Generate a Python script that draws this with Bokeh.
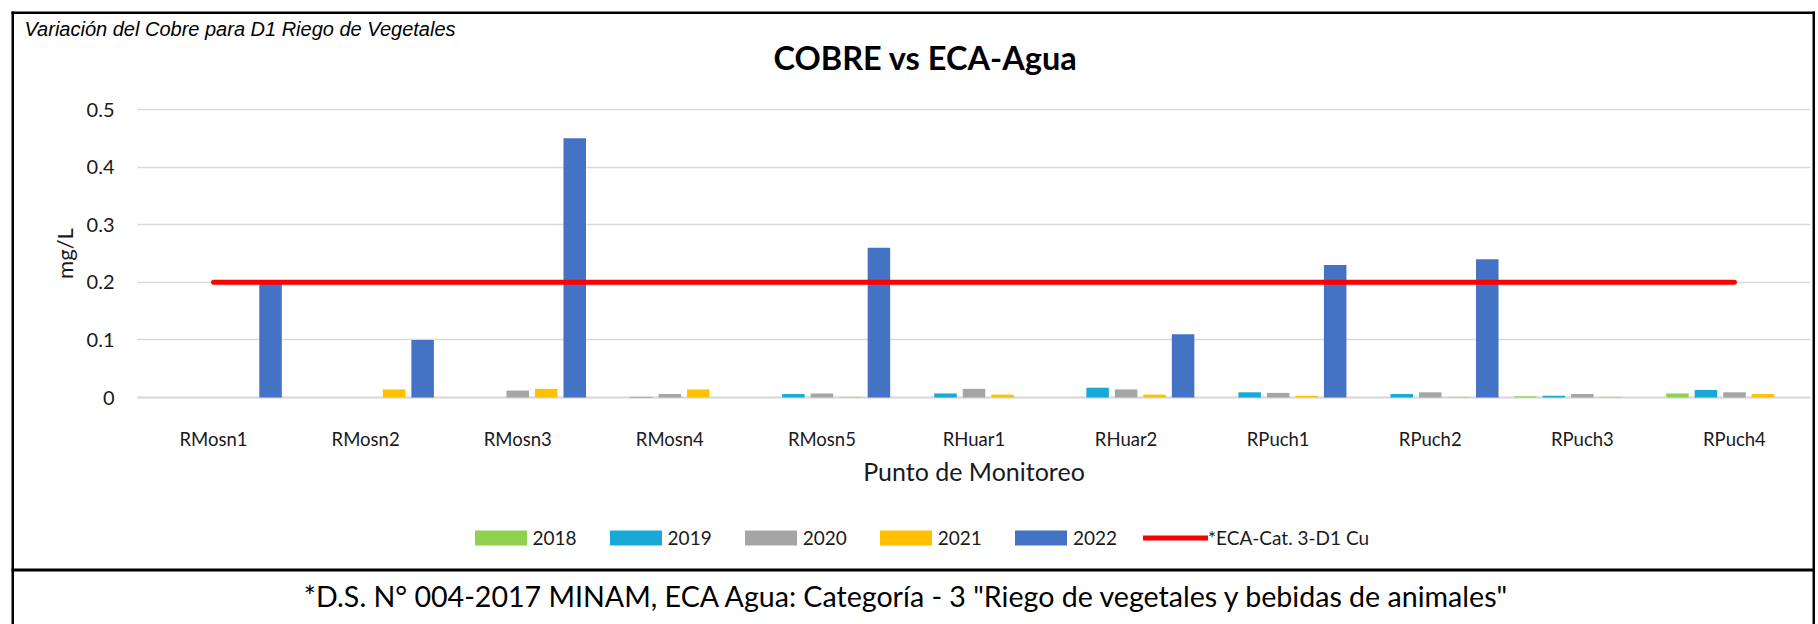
from bokeh.plotting import figure
from bokeh.models import (ColumnDataSource, Range1d, Label, BoxAnnotation,
                          Legend, LegendItem, FixedTicker, NumeralTickFormatter)
from bokeh.transform import dodge
from bokeh.embed import file_html
from bokeh.resources import INLINE

# ---------------- data ----------------
categories = ["RMosn1", "RMosn2", "RMosn3", "RMosn4", "RMosn5", "RHuar1",
              "RHuar2", "RPuch1", "RPuch2", "RPuch3", "RPuch4"]
years = ["2018", "2019", "2020", "2021", "2022"]
v2018 = [0, 0, 0, 0, 0, 0, 0, 0, 0, 0.002, 0.007]
v2019 = [0, 0, 0, 0.001, 0.006, 0.007, 0.017, 0.009, 0.006, 0.003, 0.013]
v2020 = [0, 0, 0.012, 0.006, 0.007, 0.015, 0.014, 0.008, 0.009, 0.006, 0.009]
v2021 = [0, 0.014, 0.015, 0.014, 0.001, 0.005, 0.005, 0.003, 0.001, 0.001, 0.006]
v2022 = [0.2, 0.1, 0.45, 0, 0.26, 0, 0.11, 0.23, 0.24, 0, 0]
eca = [0.2, 0.2, 0.2, 0.2, 0.2, 0.2, 0.2, 0.2, 0.2, 0.2, 0.2]
y_ticks = [0, 0.1, 0.2, 0.3, 0.4, 0.5]
eca_label = "*ECA-Cat. 3-D1 Cu"

colors = ["#92D050", "#19A9D9", "#A5A5A5", "#FFC000", "#4472C4"]
FONT = "Lato"
TXT = "#1a1a1a"

# ---------------- page geometry (px) ----------------
W, H = 1818, 624
PL, PR = 137.0, 1810.0        # plot area left / right
PT, PB = 109.0, 397.0         # plot area top (y=0.5) / bottom (y=0)
YMAX = 0.5
NCAT = len(categories)
cw = (PR - PL) / NCAT         # px per category
ppu = (PB - PT) / YMAX        # px per mg/L

x_range = Range1d(-PL / cw, (W - PL) / cw)
y_range = Range1d(-(H - PB) / ppu, YMAX + PT / ppu)

centers = [i + 0.5 for i in range(NCAT)]

src = ColumnDataSource(dict(x=centers, y2018=v2018, y2019=v2019, y2020=v2020,
                            y2021=v2021, y2022=v2022, eca=eca))

p = figure(width=W, height=H, x_range=x_range, y_range=y_range, title=None,
           output_backend="svg", toolbar_location=None,
           min_border=0, min_border_left=0, min_border_right=0,
           min_border_top=0, min_border_bottom=0)
p.outline_line_color = None
p.background_fill_color = "white"
p.border_fill_color = "white"
p.xgrid.visible = False
p.ygrid.visible = False


def sy(page_y):
    return H - page_y


# ---------------- axes (pinned inside the canvas) ----------------
ya = p.yaxis[0]
ya.fixed_location = 0
ya.bounds = (0, YMAX)
ya.level = "underlay"
ya.ticker = FixedTicker(ticks=y_ticks)
ya.formatter = NumeralTickFormatter(format="0.[0]")
ya.axis_line_color = None
ya.major_tick_out = 0
ya.major_tick_in = int(round(PR - PL))   # ticks drawn across the plot = gridlines
ya.major_tick_line_color = "#D9D9D9"
ya.major_tick_line_width = 1.5
ya.minor_tick_line_color = None
ya.major_label_standoff = 23
ya.major_label_text_font = FONT
ya.major_label_text_font_size = "20px"
ya.major_label_text_color = TXT
ya.axis_label = "mg/L"
ya.axis_label_text_font = FONT
ya.axis_label_text_font_size = "22px"
ya.axis_label_text_font_style = "normal"
ya.axis_label_text_color = TXT
ya.axis_label_standoff = 6

xa = p.xaxis[0]
xa.fixed_location = 0
xa.bounds = (0, NCAT)
xa.level = "underlay"
xa.ticker = FixedTicker(ticks=centers)
xa.major_label_overrides = {c: name for c, name in zip(centers, categories)}
xa.axis_line_color = "#D9D9D9"
xa.axis_line_width = 2
xa.major_tick_line_color = None
xa.minor_tick_line_color = None
xa.major_tick_out = 0
xa.major_tick_in = 0
xa.major_label_standoff = 30
xa.major_label_text_font = FONT
xa.major_label_text_font_size = "18.5px"
xa.major_label_text_color = TXT
xa.axis_label = "Punto de Monitoreo"
xa.axis_label_text_font = FONT
xa.axis_label_text_font_size = "25px"
xa.axis_label_text_font_style = "normal"
xa.axis_label_text_color = TXT
xa.axis_label_standoff = 3

# ---------------- bars + ECA line ----------------
pitch = 0.1874
bw = 0.148
offsets = [-2 * pitch, -pitch, 0, pitch, 2 * pitch]
renderers = []
for yr, off, col in zip(years, offsets, colors):
    renderers.append(p.vbar(x=dodge("x", off), top="y" + yr, width=bw,
                            source=src, fill_color=col, line_color=None))
renderers.append(p.line(x="x", y="eca", source=src, line_color="#FF0000",
                        line_width=5, line_cap="round"))

# ---------------- legend ----------------
items = [LegendItem(label=lab, renderers=[r])
         for lab, r in zip(years + [eca_label], renderers)]
legend = Legend(items=items, orientation="horizontal",
                location=(467.5, sy(549.4)),
                glyph_width=65, glyph_height=19, label_standoff=0, spacing=26,
                padding=0, margin=0, border_line_color=None,
                background_fill_alpha=0, label_text_font=FONT,
                label_text_font_size="19px", label_text_color=TXT,
                label_height=15)
p.add_layout(legend)

# ---------------- texts ----------------
p.add_layout(Label(x=24, y=sy(17), x_units="screen", y_units="screen",
                   text="Variación del Cobre para D1 Riego de Vegetales",
                   text_font="Liberation Sans", text_font_size="20px",
                   text_font_style="italic", text_color="black",
                   text_align="left", text_baseline="top"))
p.add_layout(Label(x=925, y=sy(57), x_units="screen", y_units="screen",
                   text="COBRE vs ECA-Agua", text_font=FONT, text_font_size="32.5px",
                   text_font_style="bold", text_color="black",
                   text_align="center", text_baseline="middle"))
p.add_layout(Label(x=907, y=sy(595.5), x_units="screen", y_units="screen",
                   text='*D.S. N° 004-2017 MINAM, ECA Agua: Categoría - 3 "Riego de vegetales y bebidas de animales"',
                   text_font=FONT, text_font_size="28.6px", text_color="black",
                   text_align="center", text_baseline="middle"))


# ---------------- table rules ----------------
def rule(x0, x1, y0, y1):
    p.add_layout(BoxAnnotation(left=x0, right=x1, top=sy(y0), bottom=sy(y1),
                               left_units="screen", right_units="screen",
                               top_units="screen", bottom_units="screen",
                               fill_color="black", fill_alpha=1, line_color=None,
                               level="overlay"))


rule(11, 1814.5, 11, 13.5)      # top
rule(11, 13.5, 11, H)           # left
rule(1812, 1814.5, 11, H)       # right
rule(11, 1814.5, 568, 571)      # divider above footnote

open("out.html", "w").write(file_html(p, INLINE))
